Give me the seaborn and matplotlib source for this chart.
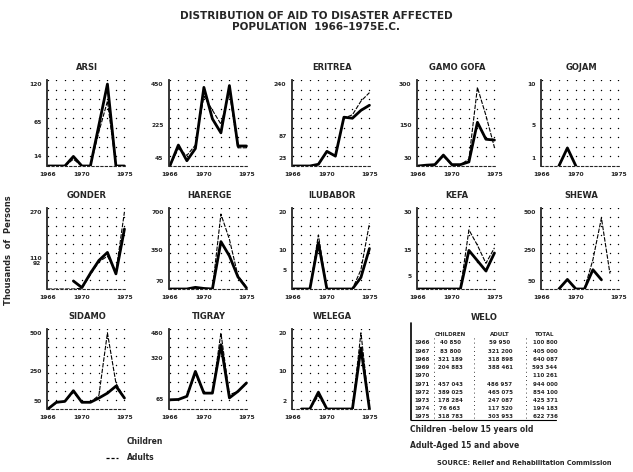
import matplotlib
matplotlib.use("Agg")
import matplotlib.pyplot as plt
import numpy as np
import pandas as pd
import seaborn as sns
from matplotlib.lines import Line2D

nan = np.nan
YEARS = list(range(1966, 1976))
XTICKS = [1966, 1970, 1975]

# panel order, left to right, top to bottom (second panel title lost in the scan)
REGIONS = ["ARSI", "BALE", "ERITREA", "GAMO GOFA", "GOJAM",
           "GONDER", "HARERGE", "ILUBABOR", "KEFA", "SHEWA",
           "SIDAMO", "TIGRAY", "WELEGA"]
TITLES = ["ARSI", "", "ERITREA", "GAMO GOFA", "GOJAM",
          "GONDER", "HARERGE", "ILUBABOR", "KEFA", "SHEWA",
          "SIDAMO", "TIGRAY", "WELEGA"]

# thousands of persons
CHILDREN = {
    "ARSI":      [0, 0, 0, 14, 0, 0, 60, 120, 0, 0],
    "BALE":      [0, 115, 29, 96, 432, 259, 182, 442, 110, 110],
    "ERITREA":   [0, 0, 0, 5, 43, 29, 143, 140, 163, 178],
    "GAMO GOFA": [0, 3, 5, 40, 5, 5, 15, 160, 98, 95],
    "GOJAM":     [nan, nan, 0, 2.2, 0, nan, nan, nan, nan, nan],
    "GONDER":    [nan, nan, nan, 28, 5, 55, 100, 128, 53, 210],
    "HARERGE":   [0, 0, 0, 15, 5, 0, 430, 300, 110, 10],
    "ILUBABOR":  [0, 0, 0, 12, 0, 0, 0, 0, 3, 10.5],
    "KEFA":      [0, 0, 0, 0, 0, 0, 15, 11, 7, 14],
    "SHEWA":     [nan, nan, 0, 62, 0, 0, 125, 60, nan, nan],
    "SIDAMO":    [0, 44, 50, 120, 44, 44, 72, 104, 150, 72],
    "TIGRAY":    [58, 60, 80, 237, 100, 100, 405, 70, 111, 164],
    "WELEGA":    [nan, 0, 0, 4.4, 0, 0, 0, 0, 16, 0],
}
ADULTS = {
    "ARSI":      [0, 0, 0, 10, 0, 0, 50, 95, 0, 0],
    "BALE":      [0, 96, 58, 115, 384, 307, 230, 403, 100, 100],
    "ERITREA":   [0, 0, 0, 5, 40, 30, 140, 150, 190, 215],
    "GAMO GOFA": [0, 3, 5, 35, 5, 5, 25, 288, 185, 68],
    "GOJAM":     [nan] * 10,
    "GONDER":    [0, 0, 0, 0, 3, 50, 95, 115, 60, 270],
    "HARERGE":   [0, 0, 0, 10, 5, 0, 680, 450, 120, 20],
    "ILUBABOR":  [0, 0, 0, 14, 0, 0, 0, 0, 5, 17],
    "KEFA":      [0, 0, 0, 0, 0, 0, 23, 17, 10, 16],
    "SHEWA":     [nan, nan, nan, nan, nan, 0, 190, 460, 100, nan],
    "SIDAMO":    [0, 40, 50, 110, 44, 44, 90, 500, 170, 72],
    "TIGRAY":    [55, 60, 80, 220, 100, 100, 480, 90, 111, 160],
    "WELEGA":    [nan, 0, 0, 3.5, 0, 0, 0, 0, 20, 0],
}
YTICKS = {
    "ARSI": [14, 65, 120], "BALE": [45, 225, 450], "ERITREA": [23, 87, 240],
    "GAMO GOFA": [30, 150, 300], "GOJAM": [1, 5, 10], "GONDER": [92, 110, 270],
    "HARERGE": [70, 350, 700], "ILUBABOR": [5, 10, 20], "KEFA": [5, 15, 30],
    "SHEWA": [50, 250, 500], "SIDAMO": [50, 250, 500], "TIGRAY": [65, 320, 480],
    "WELEGA": [2, 10, 20],
}

# WELO table
WELO_YEARS = ["1966", "1967", "1968", "1969", "1970", "1971", "1972", "1973", "1974", "1975"]
WELO_CHILDREN = ["40 850", "83 800", "321 189", "204 883", "", "457 043", "389 025", "178 284", "76 663", "318 783"]
WELO_ADULT = ["59 950", "321 200", "318 898", "388 461", "", "486 957", "465 075", "247 087", "117 520", "303 953"]
WELO_TOTAL = ["100 800", "405 000", "640 087", "593 344", "110 261", "944 000", "854 100", "425 371", "194 183", "622 736"]

W, H = 633, 472
fig = plt.figure(figsize=(W / 100, H / 100), dpi=100)
sns.set_style("white")
plt.rcParams["font.family"] = ["DejaVu Sans"]


def fx(px):
    return px / W


def fy(py):
    return 1 - py / H


COL_LEFT = [47, 169, 292, 417, 541]
ROW_TOP = [80, 208, 329]
ROW_H = [86, 81, 80]
AX_W = 80

for i, region in enumerate(REGIONS):
    r, c = divmod(i, 5)
    ax = fig.add_axes([fx(COL_LEFT[c]), fy(ROW_TOP[r] + ROW_H[r]), AX_W / W, ROW_H[r] / H])
    df = pd.DataFrame({"year": YEARS, "children": CHILDREN[region], "adults": ADULTS[region]})

    ticks = YTICKS[region]
    top = max(ticks[-1], np.nanmax(df[["children", "adults"]].values)) * 1.05

    # dot lattice of the hand-drawn graph paper
    gx, gy = np.meshgrid(YEARS, np.linspace(0, top, 10)[1:])
    ax.scatter(gx.ravel(), gy.ravel(), s=1.0, color="black", lw=0, zorder=1)

    if df["adults"].notna().any():
        sns.lineplot(data=df.dropna(subset=["adults"]), x="year", y="adults", ax=ax,
                     color="black", lw=0.8, linestyle=(0, (4, 1.2)), estimator=None)
    sns.lineplot(data=df.dropna(subset=["children"]), x="year", y="children", ax=ax,
                 color="black", lw=2.0, estimator=None)

    ax.set_ylim(0, top)
    ax.set_xlim(1965.9, 1975.3)
    ax.set_yticks(ticks)
    ax.set_yticklabels([str(t) for t in ticks])
    ax.set_xticks(XTICKS)
    ax.tick_params(axis="both", labelsize=4.3, length=2, width=0.8, pad=2)
    ax.tick_params(axis="x", length=0, pad=4)
    for lab in ax.get_xticklabels() + ax.get_yticklabels():
        lab.set_fontweight("bold")
    ax.set_xlabel("")
    ax.set_ylabel("")
    for s in ["top", "right"]:
        ax.spines[s].set_visible(False)
    ax.spines["left"].set_linewidth(1.3)
    ax.spines["bottom"].set_linewidth(0.8)
    ax.spines["bottom"].set_linestyle((0, (2, 2)))
    ax.set_title(TITLES[i], fontsize=6, fontweight="bold", pad=7)

# title
fig.text(0.5, fy(16), "DISTRIBUTION OF AID TO DISASTER AFFECTED",
         ha="center", va="center", fontsize=7.5, fontweight="bold")
fig.text(0.5, fy(27), "POPULATION  1966\u20131975E.C.",
         ha="center", va="center", fontsize=7.5, fontweight="bold")
fig.text(fx(9), fy(250), "Thousands  of  Persons", rotation=90,
         ha="center", va="center", fontsize=6, fontweight="bold")

# WELO table
fig.text(fx(484), fy(318), "WELO", ha="center", va="center", fontsize=6, fontweight="bold")
fig.add_artist(Line2D([fx(411), fx(411)], [fy(323), fy(420)], color="black", lw=1.2))
fig.add_artist(Line2D([fx(411), fx(556)], [fy(420), fy(420)], color="black", lw=0.8))
for xpos, head in zip([450, 500, 545], ["CHILDREN", "ADULT", "TOTAL"]):
    fig.text(fx(xpos), fy(335), head, ha="center", va="center", fontsize=4.0, fontweight="bold")
for k in range(len(WELO_YEARS)):
    yy = fy(343 + k * 8.2)
    fig.text(fx(414), yy, WELO_YEARS[k], ha="left", va="center", fontsize=4.0, fontweight="bold")
    fig.text(fx(450), yy, WELO_CHILDREN[k], ha="center", va="center", fontsize=4.0, fontweight="bold")
    fig.text(fx(500), yy, WELO_ADULT[k], ha="center", va="center", fontsize=4.0, fontweight="bold")
    fig.text(fx(545), yy, WELO_TOTAL[k], ha="center", va="center", fontsize=4.0, fontweight="bold")
for xpos in [434, 474, 526]:
    fig.add_artist(Line2D([fx(xpos), fx(xpos)], [fy(338), fy(418)], color="black",
                          lw=0.6, linestyle=(0, (1, 4))))

fig.text(fx(410), fy(430), "Children -below 15 years old", fontsize=5.5, fontweight="bold", va="center")
fig.text(fx(410), fy(446), "Adult-Aged 15 and above", fontsize=5.5, fontweight="bold", va="center")
fig.text(fx(437), fy(463), "SOURCE: Relief and Rehabilitation Commission", fontsize=4.8,
         fontweight="bold", va="center")

# legend
fig.text(fx(127), fy(441), "Children", fontsize=5.5, fontweight="bold", va="center")
fig.add_artist(Line2D([fx(106), fx(118)], [fy(458), fy(458)], color="black", lw=0.9,
                      linestyle=(0, (2.5, 1.5))))
fig.text(fx(127), fy(458), "Adults", fontsize=5.5, fontweight="bold", va="center")

fig.savefig("out.png", dpi=100)
